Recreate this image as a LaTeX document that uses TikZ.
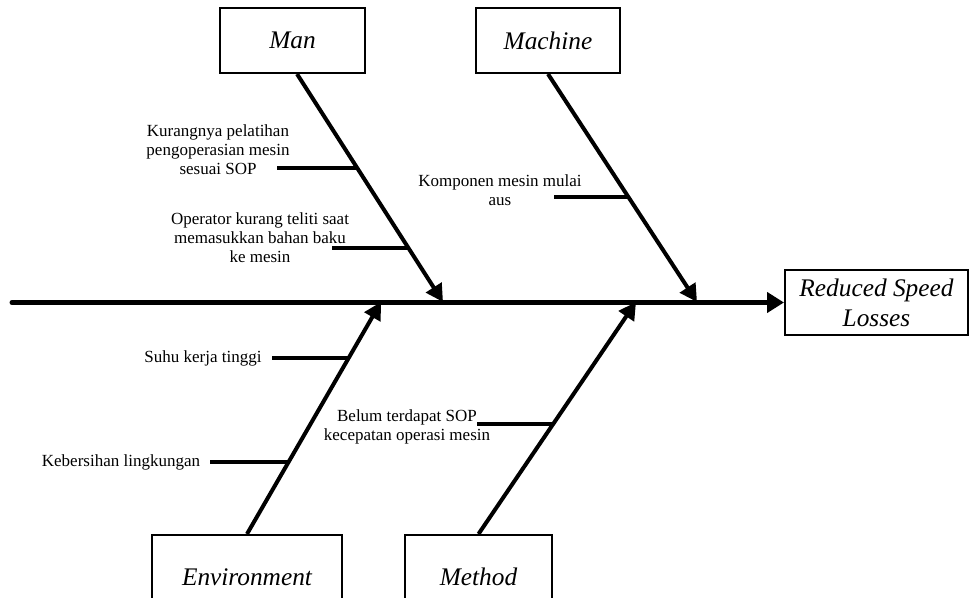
\documentclass[tikz,border=0pt]{standalone}
\usepackage{fontspec}
\setmainfont{Liberation Serif}
\usepackage{tikz}
\usetikzlibrary{arrows.meta, positioning, calc}
\tikzset{
    catbox/.style={rectangle, draw=black, line width=1.5pt, fill=white, inner sep=0pt, align=center, font=\fontsize{19pt}{22.5pt}\selectfont\itshape},
    cause/.style={align=center, inner sep=0pt, font=\fontsize{12.75pt}{14.25pt}\selectfont},
    spine/.style={line width=3.75pt, line cap=round, -{Triangle[length=12.75pt, width=15pt]}},
    bone/.style={line width=3pt, -{Triangle[length=13pt, width=13.5pt]}},
    twig/.style={line width=3pt}
}
\begin{document}
\begin{tikzpicture}[x=0.75pt, y=-0.75pt]
        \useasboundingbox (0,0) rectangle (970,598);
        \clip (0,0) rectangle (970,598);

        % categories and effect
        \node[catbox, minimum width=108.75pt, minimum height=48.75pt] (man) at (292.5,40.5) {Man};
        \node[catbox, minimum width=108pt, minimum height=48.75pt] (machine) at (548,40.5) {Machine};
        \node[catbox, minimum width=142.5pt, minimum height=63pt] (env) at (247,577) {Environment};
        \node[catbox, minimum width=110.25pt, minimum height=63pt] (method) at (478.5,577) {Method};
        \node[catbox, minimum width=137.25pt, minimum height=48.75pt] (effect) at (876.5,302.5) {Reduced Speed\\Losses};

        % spine
        \coordinate (tail) at (12,302.5);
        \draw[spine] (tail) -- (effect.west);

        % main bones
        \coordinate (manfoot) at ([xshift=3.4pt]man.south);
        \coordinate (manhead) at (443,302);
        \coordinate (machfoot) at (machine.south);
        \coordinate (machhead) at (697,302);
        \coordinate (envfoot) at (env.north);
        \coordinate (envhead) at (381,302);
        \coordinate (methfoot) at (method.north);
        \coordinate (methhead) at (636,302);
        \draw[bone] (manfoot) -- (manhead);
        \draw[bone] (machfoot) -- (machhead);
        \draw[bone] (envfoot) -- (envhead);
        \draw[bone] (methfoot) -- (methhead);

        % causes
        \coordinate (man1) at ($(manfoot)!0.415!(manhead)$);
        \coordinate (man2) at ($(manfoot)!0.764!(manhead)$);
        \coordinate (mach1) at ($(machfoot)!0.541!(machhead)$);
        \coordinate (env1) at ($(envfoot)!0.760!(envhead)$);
        \coordinate (env2) at ($(envfoot)!0.313!(envhead)$);
        \coordinate (meth1) at ($(methfoot)!0.476!(methhead)$);

        \coordinate (man1s) at (277,168);
        \coordinate (man2s) at (332,248);
        \coordinate (mach1s) at (554,197);
        \coordinate (env1s) at (272,358);
        \coordinate (env2s) at (210,462);
        \coordinate (meth1s) at (477,424);
        \draw[twig] (man1s) -- (man1s -| man1);
        \draw[twig] (man2s) -- (man2s -| man2);
        \draw[twig] (mach1s) -- (mach1s -| mach1);
        \draw[twig] (env1s) -- (env1s -| env1);
        \draw[twig] (env2s) -- (env2s -| env2);
        \draw[twig] (meth1s) -- (meth1s -| meth1);

        \node[cause] (t1) at (218,150) {Kurangnya pelatihan\\pengoperasian mesin\\sesuai SOP};
        \node[cause] (t2) at (260,238) {Operator kurang teliti saat\\memasukkan bahan baku\\ke mesin};
        \node[cause] (t3) at (500,190) {Komponen mesin mulai\\aus};
        \node[cause] (t4) at (203,358) {Suhu kerja tinggi};
        \node[cause] (t5) at (121,462) {Kebersihan lingkungan};
        \node[cause] (t6) at (407,427) {Belum terdapat SOP\\kecepatan operasi mesin};
    \end{tikzpicture}
\end{document}
